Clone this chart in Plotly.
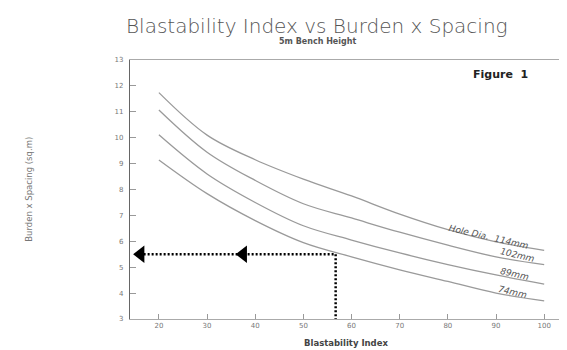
import plotly.graph_objects as go

# ---------------- data ----------------
blast_index = [20, 30, 40, 50, 60, 70, 80, 90, 100]
series_names = ["114mm", "102mm", "89mm", "74mm"]
bs_114 = [11.74, 10.10, 9.15, 8.40, 7.75, 7.05, 6.45, 5.98, 5.65]
bs_102 = [11.07, 9.44, 8.35, 7.45, 6.90, 6.35, 5.85, 5.40, 5.10]
bs_89 = [10.11, 8.60, 7.50, 6.60, 6.05, 5.55, 5.10, 4.70, 4.35]
bs_74 = [9.14, 7.84, 6.80, 5.95, 5.40, 4.90, 4.45, 4.00, 3.70]

label_texts = ["Hole Dia.  114mm", "102mm", "89mm", "74mm"]
label_x = [88.6, 94.4, 93.8, 93.4]
label_y = [6.18, 5.47, 4.74, 4.04]

y_ticks = [3, 4, 5, 6, 7, 8, 9, 10, 11, 12, 13]
x_ticks = [20, 30, 40, 50, 60, 70, 80, 90, 100]

title_text = "Blastability Index vs Burden x Spacing"
subtitle_text = "5m Bench Height"
figure_text = "Figure  1"
x_title = "Blastability Index"
y_title = "Burden x Spacing (sq.m)"

# worked example: blastability index -> burden x spacing
example_index = 56.7
example_bs = 5.5
arrow_tips_x = [16.2, 37.5]
axis_left_x = 16.0
axis_bottom_y = 2.85

fig = go.Figure()

for vals in [bs_114, bs_102, bs_89, bs_74]:
    fig.add_trace(go.Scatter(
        x=blast_index, y=vals, mode="lines", line_shape="spline",
        line=dict(color="#9a9a9a", width=1.3), hoverinfo="skip", showlegend=False))

# dotted example lines
fig.add_shape(type="line", x0=axis_left_x, x1=example_index, y0=example_bs, y1=example_bs,
              line=dict(color="black", width=2.5, dash="2px,2px"))
fig.add_shape(type="line", x0=example_index, x1=example_index, y0=example_bs, y1=axis_bottom_y,
              line=dict(color="black", width=2.5, dash="2px,2px"))
fig.add_trace(go.Scatter(
    x=arrow_tips_x, y=[example_bs] * len(arrow_tips_x), mode="markers",
    marker=dict(symbol="triangle-left", size=15, color="black", line=dict(width=0)),
    hoverinfo="skip", showlegend=False, cliponaxis=False))

for t, lx, ly in zip(label_texts, label_x, label_y):
    fig.add_annotation(x=lx, y=ly, text="<i>" + t + "</i>", showarrow=False,
                       textangle=13, font=dict(family="DejaVu Sans", size=9, color="#555"))

# title / subtitle
fig.add_annotation(x=0.432, y=1.130, xref="paper", yref="paper", xanchor="center", yanchor="middle",
                   text=title_text, showarrow=False,
                   font=dict(family="DejaVu Sans", size=20, color="#555", weight=200))
fig.add_annotation(x=0.434, y=1.073, xref="paper", yref="paper", xanchor="center", yanchor="middle",
                   text="<b>" + subtitle_text + "</b>", showarrow=False,
                   font=dict(family="DejaVu Sans", size=8, color="#555"))
fig.add_annotation(x=0.926, y=0.943, xref="paper", yref="paper", xanchor="right", yanchor="middle",
                   text="<b>" + figure_text + "</b>", showarrow=False,
                   font=dict(family="DejaVu Sans", size=11, color="#222"))
fig.add_annotation(x=-0.2356, y=0.5, xref="paper", yref="paper", xanchor="center", yanchor="middle",
                   text=y_title, textangle=-90, showarrow=False,
                   font=dict(family="DejaVu Sans", size=8.5, color="#777"))

fig.update_layout(
    width=567, height=350,
    margin=dict(l=122, r=12, t=52, b=37),
    paper_bgcolor="white", plot_bgcolor="white",
    xaxis=dict(
        range=[14, 103.7], tickvals=x_ticks, ticks="inside", ticklen=5, tickcolor="#999",
        showgrid=False, zeroline=False, showline=True, linecolor="#aaa", linewidth=1, mirror=True,
        tickfont=dict(family="DejaVu Sans", size=7, color="#777"),
        title=dict(text="<b>" + x_title + "</b>", standoff=10,
                   font=dict(family="DejaVu Sans", size=8.5, color="#444"))),
    yaxis=dict(
        range=[3, 13], tickvals=y_ticks, ticks="inside", ticklen=6, tickcolor="#999",
        ticklabelstandoff=4,
        showgrid=False, zeroline=False, showline=True, linecolor="#666", linewidth=1.2, mirror=True,
        tickfont=dict(family="DejaVu Sans", size=7, color="#777")),
)

fig.write_html("out.html")
